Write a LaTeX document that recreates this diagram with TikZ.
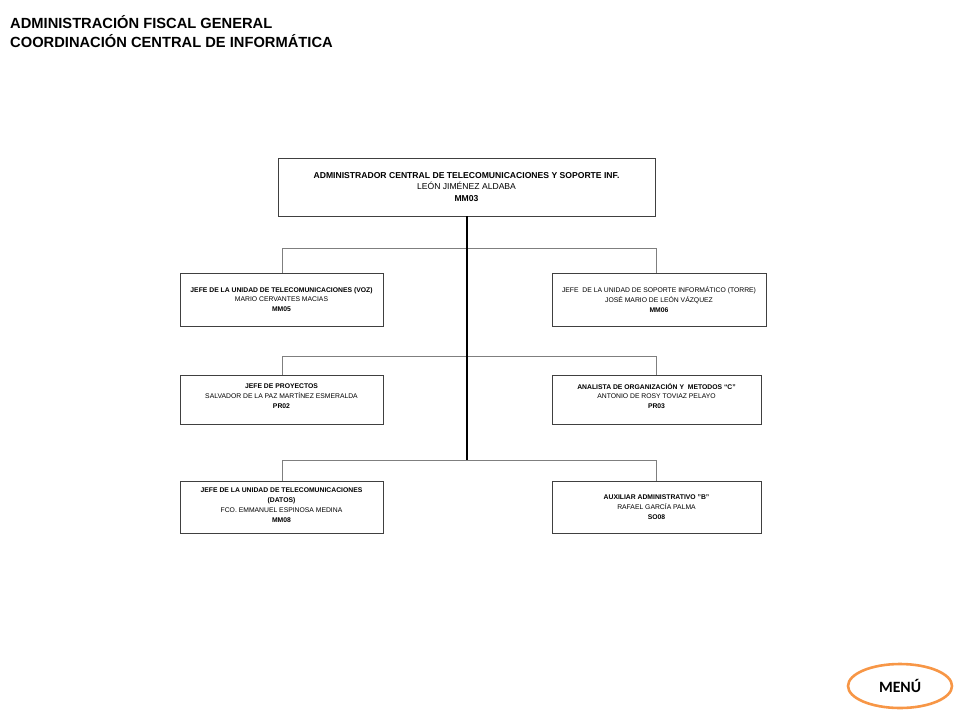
\documentclass[tikz,border=0pt]{standalone}
\usepackage{fontspec}
\setmainfont{Liberation Sans}
\newfontfamily\menufont{Carlito}
\usetikzlibrary{shapes.geometric}
\definecolor{menuorange}{HTML}{F79646}
\definecolor{boxline}{HTML}{404040}
\definecolor{conline}{HTML}{7F7F7F}
\begin{document}
\begin{tikzpicture}[x=1pt,y=-1pt,
  orgbox/.style={draw=boxline,line width=0.9pt,rectangle,inner sep=0pt,align=center,
    font=\fontsize{6.8}{9.8}\selectfont},
  topbox/.style={draw=boxline,line width=0.9pt,rectangle,inner sep=0pt,align=center,
    font=\fontsize{8.6}{11.5}\selectfont},
  conn/.style={draw=conline,line width=0.9pt},
  trunk/.style={draw=black,line width=1.8pt},
  header/.style={anchor=west,font=\bfseries\fontsize{14.7}{17}\selectfont,inner sep=0pt}]
\useasboundingbox (0,0) rectangle (960,720);

\node[header] (h1) at (10,22) {ADMINISTRACIÓN FISCAL GENERAL};
\node[header] (h2) at (10,41) {COORDINACIÓN CENTRAL DE INFORMÁTICA};

\node[topbox,minimum width=377pt,minimum height=58pt] (top) at (466.5,187)
  {\textbf{ADMINISTRADOR CENTRAL DE TELECOMUNICACIONES Y SOPORTE INF.}\\LEÓN JIMÉNEZ ALDABA\\\textbf{MM03}};

\node[orgbox,minimum width=203pt,minimum height=53pt] (voz) at (281.5,299.5)
  {\textbf{JEFE DE LA UNIDAD DE TELECOMUNICACIONES (VOZ)}\\MARIO CERVANTES MACIAS\\\textbf{MM05}};
\node[orgbox,minimum width=214pt,minimum height=53pt] (torre) at (659,299.5)
  {JEFE\ \ DE LA UNIDAD DE SOPORTE INFORMÁTICO (TORRE)\\JOSÉ MARIO DE LEÓN VÁZQUEZ\\\textbf{MM06}};

\node[orgbox,minimum width=203pt,minimum height=49pt] (proy) at (281.5,399.5) {};
\node[orgbox,draw=none,anchor=center] (proyt) at (281.5,396)
  {\textbf{JEFE DE PROYECTOS}\\SALVADOR DE LA PAZ MARTÍNEZ ESMERALDA\\\textbf{PR02}};
\node[orgbox,minimum width=209pt,minimum height=49pt] (anal) at (656.5,399.5) {};
\node[orgbox,draw=none,anchor=center] (analt) at (656.5,396)
  {\textbf{ANALISTA DE ORGANIZACIÓN Y\ \ METODOS ``C''}\\ANTONIO DE ROSY TOVIAZ PELAYO\\\textbf{PR03}};

\node[orgbox,minimum width=203pt,minimum height=52pt] (datos) at (281.5,507) {};
\node[orgbox,draw=none,anchor=center] (datost) at (281.5,505)
  {\textbf{JEFE DE LA UNIDAD DE TELECOMUNICACIONES}\\\textbf{(DATOS)}\\FCO. EMMANUEL ESPINOSA MEDINA\\\textbf{MM08}};
\node[orgbox,minimum width=209pt,minimum height=52pt] (aux) at (656.5,507)
  {\textbf{AUXILIAR ADMINISTRATIVO "B"}\\RAFAEL GARCÍA PALMA\\\textbf{SO08}};

\coordinate (j1) at (467,248);
\coordinate (j2) at (467,356);
\coordinate (j3) at (467,460);
\coordinate (l1) at (282,248);
\coordinate (r1) at (656,248);
\coordinate (l2) at (282,356);
\coordinate (r2) at (656,356);
\coordinate (l3) at (282,460);
\coordinate (r3) at (656,460);

\draw[conn] (l1) -- (r1);
\draw[conn] (l1) -- (l1 |- voz.north);
\draw[conn] (r1) -- (r1 |- torre.north);
\draw[conn] (l2) -- (r2);
\draw[conn] (l2) -- (l2 |- proy.north);
\draw[conn] (r2) -- (r2 |- anal.north);
\draw[conn] (l3) -- (r3);
\draw[conn] (l3) -- (l3 |- datos.north);
\draw[conn] (r3) -- (r3 |- aux.north);
\draw[trunk] (j1 |- top.south) -- (j3);

\node[ellipse,draw=menuorange,line width=2.6pt,minimum width=104pt,minimum height=44pt,
  font=\menufont\bfseries\fontsize{15.7}{18}\selectfont] (menu) at (900,686) {MENÚ};
\end{tikzpicture}
\end{document}
